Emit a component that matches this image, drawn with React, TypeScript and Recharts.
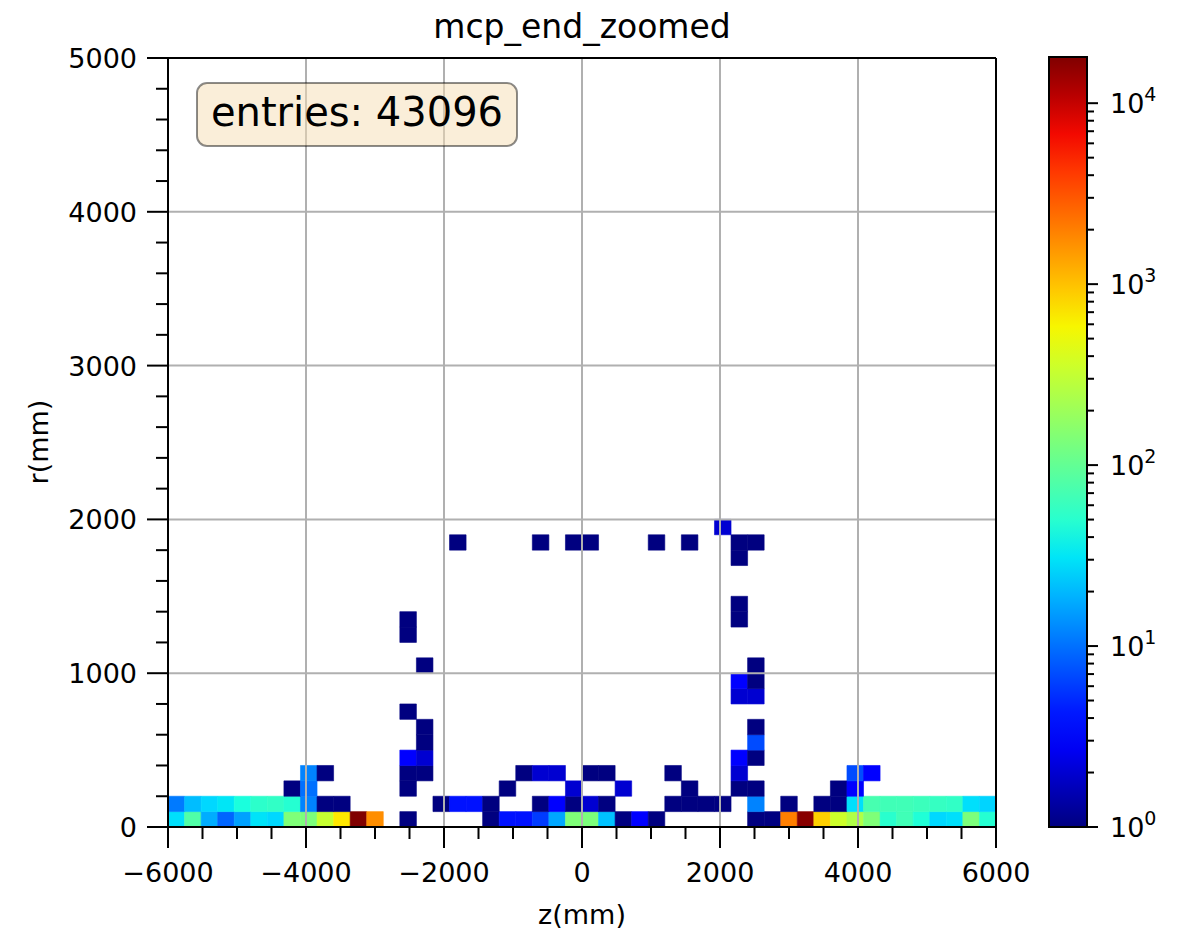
import { ScatterChart, XAxis, YAxis, ReferenceArea, ReferenceLine } from 'recharts'

// histogram binning (mm)
const Z_MIN = -6000
const Z_BIN = 240
const R_BIN = 100
const V_MAX = 18000
const ENTRIES = 43096

// counts per z bin, r in [0, 100)
const ROW_0 = [
  29, 80, 18, 9, 16, 30, 27, 140, 135, 325,
  670, 18000, 1700, 0, 1, 0, 0, 0, 0, 1,
  4, 4, 6, 17, 140, 135, 22, 1, 3, 1,
  0, 0, 0, 0, 0, 1, 1, 2000, 16800, 860,
  355, 250, 140, 50, 66, 45, 27, 29, 135, 48,
]

// counts per z bin, r in [100, 200)
const ROW_1 = [
  11, 21, 27, 31, 42, 52, 55, 48, 12, 1,
  1, 0, 0, 0, 0, 0, 1, 4, 4, 1,
  0, 0, 1, 3, 1, 2, 1, 0, 0, 0,
  1, 1, 1, 1, 0, 12, 0, 1, 0, 1,
  1, 29, 72, 66, 66, 62, 58, 55, 29, 26,
]

// sparse cells above r = 200: [z bin, r bin, count]
const UPPER_CELLS: [number, number, number][] = [
  [7, 2, 1], [8, 2, 10], [14, 2, 1], [20, 2, 1], [24, 2, 2], [27, 2, 2],
  [31, 2, 1], [34, 2, 1], [35, 2, 1], [40, 2, 1], [41, 2, 3],
  [8, 3, 12], [9, 3, 1], [14, 3, 1], [15, 3, 1], [21, 3, 1], [22, 3, 2],
  [23, 3, 2], [25, 3, 1], [26, 3, 1], [30, 3, 1], [34, 3, 2], [41, 3, 7], [42, 3, 3],
  [14, 4, 3], [15, 4, 2], [34, 4, 3], [35, 4, 1],
  [15, 5, 1], [35, 5, 7],
  [15, 6, 1], [35, 6, 1],
  [14, 7, 1],
  [34, 8, 2], [35, 8, 2],
  [34, 9, 3], [35, 9, 1],
  [15, 10, 1], [35, 10, 1],
  [14, 12, 1],
  [14, 13, 1], [34, 13, 1],
  [34, 14, 1],
  [34, 17, 1],
  [17, 18, 1], [22, 18, 1], [24, 18, 1], [25, 18, 1], [29, 18, 1], [31, 18, 1],
  [34, 18, 1], [35, 18, 1],
  [33, 19, 2],
]

const X_TICKS = [
  -6000, -5500, -5000, -4500, -4000, -3500, -3000, -2500, -2000, -1500, -1000, -500,
  0, 500, 1000, 1500, 2000, 2500, 3000, 3500, 4000, 4500, 5000, 5500, 6000,
]
const Y_TICKS = [
  0, 200, 400, 600, 800, 1000, 1200, 1400, 1600, 1800, 2000, 2200, 2400,
  2600, 2800, 3000, 3200, 3400, 3600, 3800, 4000, 4200, 4400, 4600, 4800, 5000,
]
const X_GRID = [-4000, -2000, 0, 2000, 4000]
const Y_GRID = [1000, 2000, 3000, 4000]
const CB_TICKS = [
  1, 2, 3, 4, 5, 6, 7, 8, 9,
  10, 20, 30, 40, 50, 60, 70, 80, 90,
  100, 200, 300, 400, 500, 600, 700, 800, 900,
  1000, 2000, 3000, 4000, 5000, 6000, 7000, 8000, 9000,
  10000,
]
const CB_DECADES = [1, 10, 100, 1000, 10000]

const FONT = '"DejaVu Sans", sans-serif'
const TICK_FONT = 27

// colorbar placement on the page
const CB_X = 1000
const CB_LEFT = 49
const CB_W = 38
const CB_TOP = 57
const CB_BOTTOM = 102
const PAGE_H = 929

// matplotlib 'jet' segment data
const JET_R = [[0, 0], [0.35, 0], [0.66, 1], [0.89, 1], [1, 0.5]]
const JET_G = [[0, 0], [0.125, 0], [0.375, 1], [0.64, 1], [0.91, 0], [1, 0]]
const JET_B = [[0, 0.5], [0.11, 1], [0.34, 1], [0.65, 0], [1, 0]]

function seg(pts: number[][], t: number) {
  for (let i = 1; i < pts.length; i++) {
    if (t <= pts[i][0]) {
      const [t0, v0] = pts[i - 1]
      const [t1, v1] = pts[i]
      return v0 + ((t - t0) / (t1 - t0)) * (v1 - v0)
    }
  }
  return pts[pts.length - 1][1]
}

function jet(t: number) {
  const c = Math.max(0, Math.min(1, t))
  const ch = (p: number[][]) => Math.round(seg(p, c) * 255)
  return `rgb(${ch(JET_R)},${ch(JET_G)},${ch(JET_B)})`
}

const countColor = (n: number) => jet(Math.log10(n) / Math.log10(V_MAX))

const cells = [
  ...ROW_0.map((count, i) => ({ i, j: 0, count })),
  ...ROW_1.map((count, i) => ({ i, j: 1, count })),
  ...UPPER_CELLS.map(([i, j, count]) => ({ i, j, count })),
].filter((c) => c.count > 0)

const fmt = (v: number) => (v < 0 ? `\u2212${Math.abs(v)}` : `${v}`)

function ZTick({ x, y, payload }: any) {
  const major = payload.value % 2000 === 0
  return (
    <g>
      <line x1={x} x2={x} y1={y} y2={y + (major ? 21 : 12)} stroke="#000" strokeWidth={2} />
      {major && (
        <text x={x} y={y + 55} textAnchor="middle" fontSize={TICK_FONT} fontFamily={FONT} fill="#000">
          {fmt(payload.value)}
        </text>
      )}
    </g>
  )
}

function RTick({ x, y, payload }: any) {
  const major = payload.value % 1000 === 0
  return (
    <g>
      <line x1={x - (major ? 21 : 12)} x2={x} y1={y} y2={y} stroke="#000" strokeWidth={2} />
      {major && (
        <text x={x - 31} y={y + 10} textAnchor="end" fontSize={TICK_FONT} fontFamily={FONT} fill="#000">
          {payload.value}
        </text>
      )}
    </g>
  )
}

function ColorbarTick({ x, y, payload }: any) {
  const decade = CB_DECADES.indexOf(payload.value)
  const major = decade >= 0
  return (
    <g>
      <line x1={x} x2={x + (major ? 11 : 7)} y1={y} y2={y} stroke="#000" strokeWidth={2} />
      {major && (
        <text x={x + 23} y={y + 10} fontSize={TICK_FONT} fontFamily={FONT} fill="#000">
          10
          <tspan dy={-12} fontSize={19}>
            {decade}
          </tspan>
        </text>
      )}
    </g>
  )
}

function Heatmap() {
  return (
    <ScatterChart width={1044} height={PAGE_H} margin={{ top: 58, right: 48, bottom: 0, left: 0 }}>
      <XAxis
        type="number"
        dataKey="z"
        domain={[-6000, 6000]}
        ticks={X_TICKS}
        interval={0}
        height={102}
        tickSize={0}
        tickMargin={0}
        tickLine={false}
        tick={<ZTick />}
        axisLine={{ stroke: '#000', strokeWidth: 2 }}
        allowDataOverflow
      />
      <YAxis
        type="number"
        dataKey="r"
        domain={[0, 5000]}
        ticks={Y_TICKS}
        interval={0}
        width={168}
        tickSize={0}
        tickMargin={0}
        tickLine={false}
        tick={<RTick />}
        axisLine={{ stroke: '#000', strokeWidth: 2 }}
        allowDataOverflow
      />
      {cells.map((c) => {
        const color = countColor(c.count)
        return (
          <ReferenceArea
            key={`${c.i}-${c.j}`}
            x1={Z_MIN + c.i * Z_BIN}
            x2={Z_MIN + (c.i + 1) * Z_BIN}
            y1={c.j * R_BIN}
            y2={(c.j + 1) * R_BIN}
            fill={color}
            fillOpacity={1}
            stroke={color}
            strokeWidth={0.6}
          />
        )
      })}
      {X_GRID.map((z) => (
        <ReferenceLine key={`gx${z}`} x={z} stroke="#b0b0b0" strokeWidth={2} />
      ))}
      {Y_GRID.map((r) => (
        <ReferenceLine key={`gy${r}`} y={r} stroke="#b0b0b0" strokeWidth={2} />
      ))}
      <ReferenceLine y={5000} stroke="#000" strokeWidth={2} />
      <ReferenceLine x={6000} stroke="#000" strokeWidth={2} />
    </ScatterChart>
  )
}

// log axis of the colorbar; the gradient strip itself is painted in the overlay
function ColorbarAxis() {
  return (
    <ScatterChart
      width={184}
      height={PAGE_H}
      margin={{ top: CB_TOP, right: 0, bottom: CB_BOTTOM, left: CB_LEFT }}
    >
      <XAxis type="number" dataKey="x" domain={[0, 1]} hide />
      <YAxis
        type="number"
        dataKey="v"
        orientation="right"
        scale="log"
        domain={[1, V_MAX]}
        ticks={CB_TICKS}
        interval={0}
        width={184 - CB_LEFT - CB_W}
        tickSize={0}
        tickMargin={0}
        tickLine={false}
        axisLine={false}
        tick={<ColorbarTick />}
        allowDataOverflow
      />
    </ScatterChart>
  )
}

export default function App() {
  const stops = Array.from({ length: 21 }, (_, k) => k / 20)
  return (
    <div style={{ position: 'absolute', left: 0, top: 0, width: 1184, height: PAGE_H, background: '#fff' }}>
      <div style={{ position: 'absolute', left: 0, top: 0 }}>
        <Heatmap />
      </div>
      <div style={{ position: 'absolute', left: CB_X, top: 0 }}>
        <ColorbarAxis />
      </div>
      <svg
        width={1184}
        height={PAGE_H}
        style={{ position: 'absolute', left: 0, top: 0, pointerEvents: 'none' }}
        fontFamily={FONT}
      >
        <defs>
          <linearGradient id="jet-bar" x1="0" y1="1" x2="0" y2="0">
            {stops.map((t) => (
              <stop key={t} offset={t} stopColor={jet(t)} />
            ))}
          </linearGradient>
        </defs>
        <rect
          x={CB_X + CB_LEFT}
          y={CB_TOP}
          width={CB_W}
          height={PAGE_H - CB_TOP - CB_BOTTOM}
          fill="url(#jet-bar)"
          stroke="#000"
          strokeWidth={2}
        />
        <text x={582} y={38} textAnchor="middle" fontSize={33} fill="#000">
          mcp_end_zoomed
        </text>
        <text x={582} y={924} textAnchor="middle" fontSize={TICK_FONT} fill="#000">
          z(mm)
        </text>
        <text x={48} y={442} textAnchor="middle" fontSize={TICK_FONT} fill="#000" transform="rotate(-90 48 442)">
          r(mm)
        </text>
        <rect
          x={197}
          y={83}
          width={320}
          height={63}
          rx={10}
          fill="rgba(245,222,179,0.5)"
          stroke="rgba(0,0,0,0.45)"
          strokeWidth={2}
        />
        <text x={357} y={126} textAnchor="middle" fontSize={40} fill="#000">
          entries: {ENTRIES}
        </text>
      </svg>
    </div>
  )
}
